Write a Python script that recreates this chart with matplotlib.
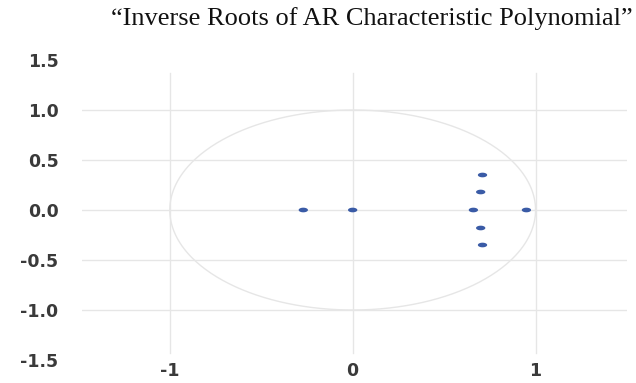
import numpy as np
import matplotlib
matplotlib.use("Agg")
import matplotlib.pyplot as plt
from matplotlib.path import Path

# Data: inverse roots (real, imaginary)
root_re = [-0.27, 0.00, 0.66, 0.95, 0.71, 0.70, 0.70, 0.71]
root_im = [0.00, 0.00, 0.00, 0.00, 0.35, 0.18, -0.18, -0.35]
x_ticks = [-1, 0, 1]
x_labels = ["-1", "0", "1"]
y_ticks = [1.5, 1.0, 0.5, 0.0, -0.5, -1.0, -1.5]
y_labels = ["1.5", "1.0", "0.5", "0.0", "-0.5", "-1.0", "-1.5"]
grid_y = [1.0, 0.5, 0.0, -0.5, -1.0]
title = "\u201cInverse Roots of AR Characteristic Polynomial\u201d"

fig = plt.figure(figsize=(6.36, 3.83), dpi=100)
ax = fig.add_axes([82/636, 1-360/383, (627-82)/636, 300/383])
ax.set_xlim(-1.48, 1.5)
ax.set_ylim(-1.5, 1.5)
for s in ax.spines.values():
    s.set_visible(False)

gc = "#e6e6e6"
for gy in grid_y:
    ax.axhline(gy, color=gc, lw=1.0, zorder=1)
for gx in x_ticks:
    ax.axvline(gx, ymin=(1.5-1.43)/3, ymax=(1.5+1.37)/3, color=gc, lw=1.0, zorder=1)

t = np.linspace(0, 2*np.pi, 400)
ax.plot(np.cos(t), np.sin(t), color="#e6e6e6", lw=1.0, zorder=2)

th = np.linspace(0, 2*np.pi, 40)
ell = Path(np.column_stack([np.cos(th)*1.0, np.sin(th)*0.5]))
ax.scatter(root_re, root_im, marker=ell, s=45, color="#3a5ba6", edgecolors="none", zorder=3)

ax.set_xticks(x_ticks)
ax.set_xticklabels(x_labels)
ax.set_yticks(y_ticks)
ax.set_yticklabels(y_labels)
ax.tick_params(length=0, labelsize=12.5, labelcolor="#3a3a3a")
ax.tick_params(axis="y", pad=17)
ax.tick_params(axis="x", pad=1.5)
for lab in ax.get_xticklabels() + ax.get_yticklabels():
    lab.set_fontweight("bold")

fig.text(633/636, 1-19/383, title, ha="right", va="center",
         fontsize=19, family="Liberation Serif", color="#111111")

fig.savefig("out.png", dpi=100)
